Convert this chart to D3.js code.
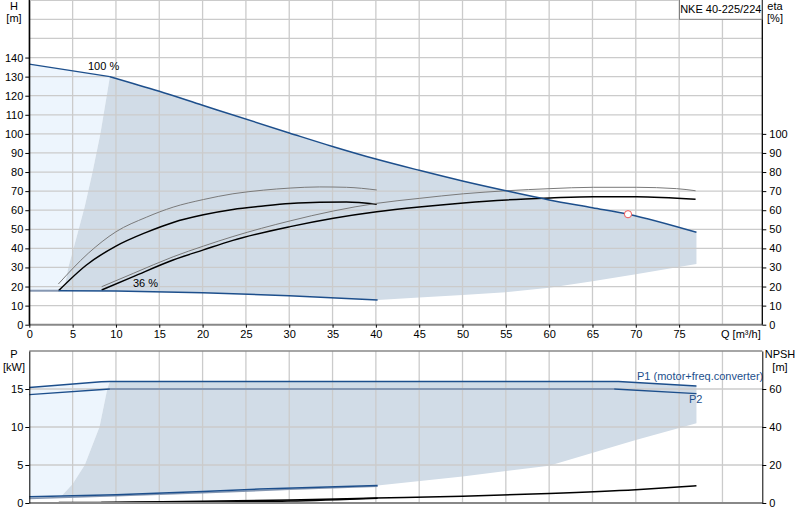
<!DOCTYPE html>
<html><head><meta charset="utf-8">
<script src="https://cdn.jsdelivr.net/npm/d3@7/dist/d3.min.js"></script>
<style>
body{margin:0;background:#fff}
svg{display:block;font-family:"Liberation Sans",Arial,sans-serif;font-size:11px}
</style></head>
<body><svg id="c" width="800" height="520"></svg>
<script>
// ---------- data ----------
const title = "NKE 40-225/224";
const xTicks = [0,5,10,15,20,25,30,35,40,45,50,55,60,65,70,75];
const hTicks = [0,10,20,30,40,50,60,70,80,90,100,110,120,130,140];
const etaTicks = [0,10,20,30,40,50,60,70,80,90,100];
const pTicks = [0,5,10,15];
const npshTicks = [0,20,40,60];

// 100 % QH curve
const qh100Q = [0, 9.3, 15, 20, 30, 35, 40, 45, 50, 55, 60, 65, 69.1, 77];
const qh100H = [136.5, 130, 122.3, 115.0, 100.5, 93.4, 86.8, 80.9, 75.3, 70.2, 65.4, 61.3, 57.9, 48.4];
// 36 % QH curve
const qh36Q = [3.4, 10, 20, 30, 40.2];
const qh36H = [17.8, 17.6, 16.8, 15.2, 13.0];
// lower limit of operating range (high flow)
const lowLimQ = [40.2, 45, 50, 55, 60, 65, 70, 77];
const lowLimH = [13.0, 14.3, 15.5, 17.0, 19.4, 22.8, 26.4, 31.8];
// left limit of operating range
const leftLimQ = [3.4, 4.1, 4.5, 4.9, 5.7, 6.4, 7.3, 8.2, 9.3];
const leftLimH = [17.8, 20, 30, 36.5, 50, 62, 80, 100, 130];

// efficiency curves
const eta36aQ = [3.35, 6.8, 10, 13.5, 16.6, 20.1, 23.5, 27, 30.1, 33.5, 36.6, 40.1];
const eta36aE = [21.3, 37.4, 48.7, 56.3, 61.6, 65.6, 68.6, 70.5, 71.6, 72.2, 72.0, 70.6];
const eta36bQ = [3.35, 6.6, 10, 13.5, 16.6, 20.1, 23.5, 27, 30.1, 33.5, 36.6, 40.1];
const eta36bE = [17.7, 31.3, 41.2, 48.4, 53.6, 57.6, 60.4, 62.2, 63.5, 64.2, 64.3, 63.1];
const eta100aQ = [8.35, 12, 16.6, 20.1, 23.5, 30.1, 35.1, 40.1, 45, 50.1, 55.1, 60.1, 65.1, 70.1, 74.7, 76.9];
const eta100aE = [19.9, 26.9, 35.6, 41.2, 46.2, 54.4, 59.6, 63.6, 66.2, 68.6, 70.2, 71.3, 72.0, 72.0, 71.3, 70.2];
const eta100bQ = [8.35, 12, 16.6, 20.1, 23.5, 30.1, 35.1, 40.1, 45, 50.1, 55.1, 60.1, 65.1, 70.1, 76.9];
const eta100bE = [18.2, 25.2, 33.9, 39.2, 44.2, 51.4, 55.8, 59.2, 61.7, 63.8, 65.4, 66.4, 67.1, 67.1, 65.7];

// duty point
const dutyQ = 69.1, dutyH = 57.9;

// power curves
const p1Q = [0, 8.3, 9.3, 68, 77];
const p1P = [15.2, 15.95, 16.0, 16.0, 15.4];
const p2Q = [0, 9.3, 67.5, 77];
const p2P = [14.25, 15.0, 15.0, 14.4];
const p1minQ = [0, 10, 20, 26.6, 40.2];
const p1minP = [0.83, 1.1, 1.5, 1.84, 2.3];
const p2minQ = [0, 10, 20, 30, 40.2];
const p2minP = [0.6, 0.95, 1.35, 1.8, 2.2];
// power range limits
const pLowQ = [40.2, 50, 60, 70, 77];
const pLowP = [2.3, 3.5, 4.9, 8.3, 10.5];
const pLeftQ = [3.7, 5.0, 6.4, 8.1, 9.0, 9.3];
const pLeftP = [0.9, 2.5, 5, 10, 15, 16];

// NPSH curves
const npsh36Q = [3.4, 10, 20, 30, 40.2];
const npsh36N = [0.2, 0.3, 0.5, 1.0, 2.5];
const npsh100Q = [8.3, 20, 30, 40, 50, 60, 70, 77];
const npsh100N = [0.2, 0.9, 1.6, 2.6, 3.6, 5.0, 7.0, 9.1];

// ---------- scales ----------
const svg = d3.select("#c");
const xL = 29.3, xR = 762.3;
const x = d3.scaleLinear().domain([0, 84.6]).range([xL, xR]);
const yH = d3.scaleLinear().domain([0, 170]).range([324.7, 0.3]);
const yP = d3.scaleLinear().domain([0, 20]).range([503, 351]);
const yN = d3.scaleLinear().domain([0, 80]).range([503, 351]);

const zip = (a, b) => a.map((v, i) => [v, b[i]]);
const lineH = d3.line().x(d => x(d[0])).y(d => yH(d[1]));
const lineHs = d3.line().x(d => x(d[0])).y(d => yH(d[1])).curve(d3.curveMonotoneX);
const lineP = d3.line().x(d => x(d[0])).y(d => yP(d[1]));
const lineNs = d3.line().x(d => x(d[0])).y(d => yN(d[1])).curve(d3.curveMonotoneX);

const BLUE = "#1d4f8c", GREYBLUE = "#8597b2", FILL = "#d1dce7", LIGHT = "#edf5fd", GRID = "#cbcbcb";

// ---------- top chart regions ----------
const qh100 = zip(qh100Q, qh100H);
const leftLim = zip(leftLimQ, leftLimH);
const qh36 = zip(qh36Q, qh36H);
const lowLim = zip(lowLimQ, lowLimH);

const lightPoly = [[0, qh36H[0]], [0, qh100H[0]], qh100[1]].concat(leftLim.slice().reverse());
svg.append("path").attr("d", lineH(lightPoly) + "Z").attr("fill", LIGHT);
const opPoly = qh100.slice(1).concat(lowLim.slice().reverse(), qh36.slice().reverse().slice(1), leftLim.slice(1));
svg.append("path").attr("d", lineH(opPoly) + "Z").attr("fill", FILL);

// ---------- bottom chart regions ----------
const p1 = zip(p1Q, p1P);
const pLeft = zip(pLeftQ, pLeftP);
const p1min = zip(p1minQ, p1minP);
const pLow = zip(pLowQ, pLowP);
const pLightPoly = [[0, p1minP[0]]].concat(p1.slice(0, 3), pLeft.slice().reverse(), [[3.7, 0.95]]);
svg.append("path").attr("d", lineP(pLightPoly) + "Z").attr("fill", LIGHT);
const pOpPoly = p1.slice(2).concat(pLow.slice().reverse(), p1min.slice().reverse().filter(d => d[0] > 3.7), pLeft);
svg.append("path").attr("d", lineP(pOpPoly) + "Z").attr("fill", FILL);

// ---------- grids ----------
const gridX = d3.range(5, 85, 5);
[[0.3, 324.7], [351, 503]].forEach(([t, b]) => {
  svg.append("g").selectAll("line").data(gridX).join("line")
    .attr("x1", d => x(d)).attr("x2", d => x(d)).attr("y1", t).attr("y2", b)
    .attr("stroke", GRID).attr("stroke-width", 1.3);
});
svg.append("g").selectAll("line").data(d3.range(10, 171, 10)).join("line")
  .attr("x1", xL).attr("x2", xR).attr("y1", d => yH(d)).attr("y2", d => yH(d))
  .attr("stroke", GRID).attr("stroke-width", 1.3);
svg.append("g").selectAll("line").data([5, 10, 15]).join("line")
  .attr("x1", xL).attr("x2", xR).attr("y1", d => yP(d)).attr("y2", d => yP(d))
  .attr("stroke", GRID).attr("stroke-width", 1.3);
svg.append("line").attr("x1", xL).attr("x2", xR).attr("y1", 351).attr("y2", 351)
  .attr("stroke", "#888").attr("stroke-width", 1.5);

// ---------- top chart curves ----------
const thinGrey = "#7a7a7a";
svg.append("path").attr("d", lineHs(zip(eta36aQ, eta36aE))).attr("fill", "none").attr("stroke", thinGrey).attr("stroke-width", 1);
svg.append("path").attr("d", lineHs(zip(eta36bQ, eta36bE))).attr("fill", "none").attr("stroke", "#000").attr("stroke-width", 1.5);
svg.append("path").attr("d", lineHs(zip(eta100aQ, eta100aE))).attr("fill", "none").attr("stroke", thinGrey).attr("stroke-width", 1);
svg.append("path").attr("d", lineHs(zip(eta100bQ, eta100bE))).attr("fill", "none").attr("stroke", "#000").attr("stroke-width", 1.5);

svg.append("path").attr("d", lineH([[0, qh36H[0]], qh36[0]])).attr("stroke", GREYBLUE).attr("stroke-width", 2).attr("fill", "none");
svg.append("path").attr("d", lineHs(qh36)).attr("stroke", BLUE).attr("stroke-width", 1.5).attr("fill", "none");
svg.append("path").attr("d", lineH(qh100.slice(0, 2))).attr("stroke", BLUE).attr("stroke-width", 1.3).attr("fill", "none");
svg.append("path").attr("d", lineHs(qh100.slice(1))).attr("stroke", BLUE).attr("stroke-width", 1.5).attr("fill", "none");

svg.append("circle").attr("cx", x(dutyQ)).attr("cy", yH(dutyH)).attr("r", 3.6)
  .attr("fill", "#fff").attr("stroke", "#ee5555").attr("stroke-width", 1);

svg.append("text").attr("x", 88).attr("y", 70).text("100 %");
svg.append("text").attr("x", 133).attr("y", 287).text("36 %");

// ---------- bottom chart curves ----------
const p2 = zip(p2Q, p2P);
svg.append("path").attr("d", lineP(zip(p2minQ, p2minP))).attr("stroke", GREYBLUE).attr("stroke-width", 1.5).attr("fill", "none");
svg.append("path").attr("d", lineP(p1min)).attr("stroke", BLUE).attr("stroke-width", 1.5).attr("fill", "none");
svg.append("path").attr("d", lineP(p2.slice(1, 3))).attr("stroke", GREYBLUE).attr("stroke-width", 2).attr("fill", "none");
svg.append("path").attr("d", lineP(p2.slice(0, 2))).attr("stroke", BLUE).attr("stroke-width", 1.3).attr("fill", "none");
svg.append("path").attr("d", lineP(p2.slice(2))).attr("stroke", BLUE).attr("stroke-width", 1.3).attr("fill", "none");
svg.append("path").attr("d", lineP(p1)).attr("stroke", BLUE).attr("stroke-width", 1.5).attr("fill", "none");

svg.append("path").attr("d", lineNs(zip(npsh36Q, npsh36N))).attr("stroke", "#000").attr("stroke-width", 1.5).attr("fill", "none");
svg.append("path").attr("d", lineNs(zip(npsh100Q, npsh100N))).attr("stroke", "#000").attr("stroke-width", 1.5).attr("fill", "none");

svg.append("text").attr("x", 637).attr("y", 380).attr("fill", BLUE).text("P1 (motor+freq.converter)");
svg.append("text").attr("x", 689).attr("y", 403).attr("fill", BLUE).text("P2");

// ---------- axes ----------
function styleAxis(g, color) {
  g.select(".domain").attr("stroke", color);
  g.selectAll(".tick line").attr("stroke", "#000");
  g.selectAll(".tick text").attr("fill", "#000").style("font-size", "11px").style("font-family", '"Liberation Sans",Arial,sans-serif');
}
svg.append("line").attr("x1", xL).attr("x2", xR).attr("y1", yH(0)).attr("y2", yH(0)).attr("stroke", "#888").attr("stroke-width", 2);
svg.append("g").attr("transform", `translate(0,${yH(0)})`)
  .call(d3.axisBottom(x).tickValues(xTicks).tickSize(3).tickSizeOuter(0).tickPadding(3))
  .call(g => { styleAxis(g, "none"); });
svg.append("text").attr("x", 721).attr("y", 338).text("Q [m³/h]");

svg.append("g").attr("transform", `translate(${xL},0)`)
  .call(d3.axisLeft(yH).tickValues(hTicks).tickSize(4).tickSizeOuter(0).tickPadding(2))
  .call(g => styleAxis(g, "#000"));
svg.append("g").attr("transform", `translate(${xR},0)`)
  .call(d3.axisRight(yH).tickValues(etaTicks).tickSize(4).tickSizeOuter(0).tickPadding(3))
  .call(g => styleAxis(g, "none"));
svg.append("line").attr("x1", xR).attr("x2", xR).attr("y1", 0).attr("y2", yH(0)).attr("stroke", "#000").attr("stroke-width", 1.3);
svg.append("line").attr("x1", xL).attr("x2", xL).attr("y1", 0).attr("y2", yH(0)).attr("stroke", "#000").attr("stroke-width", 1.3);

svg.append("text").attr("x", 14).attr("y", 10).attr("text-anchor", "middle").text("H");
svg.append("text").attr("x", 14).attr("y", 22).attr("text-anchor", "middle").text("[m]");
svg.append("text").attr("x", 775).attr("y", 10).attr("text-anchor", "middle").text("eta");
svg.append("text").attr("x", 775).attr("y", 22).attr("text-anchor", "middle").text("[%]");

svg.append("rect").attr("x", 679.5).attr("y", -1).attr("width", 82.5).attr("height", 20.3)
  .attr("fill", "#fff").attr("stroke", "#808080").attr("stroke-width", 1);
svg.append("text").attr("x", 720.8).attr("y", 13).attr("text-anchor", "middle").text(title);

svg.append("line").attr("x1", xL).attr("x2", xR).attr("y1", 503).attr("y2", 503).attr("stroke", "#888").attr("stroke-width", 2);
svg.append("g").attr("transform", `translate(${xL},0)`)
  .call(d3.axisLeft(yP).tickValues(pTicks).tickSize(4).tickSizeOuter(0).tickPadding(2))
  .call(g => styleAxis(g, "#000"));
svg.append("g").attr("transform", `translate(${xR},0)`)
  .call(d3.axisRight(yN).tickValues(npshTicks).tickSize(4).tickSizeOuter(0).tickPadding(3))
  .call(g => styleAxis(g, "#000"));

svg.append("text").attr("x", 14).attr("y", 358).attr("text-anchor", "middle").text("P");
svg.append("text").attr("x", 14).attr("y", 371).attr("text-anchor", "middle").text("[kW]");
svg.append("text").attr("x", 780).attr("y", 358).attr("text-anchor", "middle").text("NPSH");
svg.append("text").attr("x", 780).attr("y", 371).attr("text-anchor", "middle").text("[m]");
</script></body></html>
